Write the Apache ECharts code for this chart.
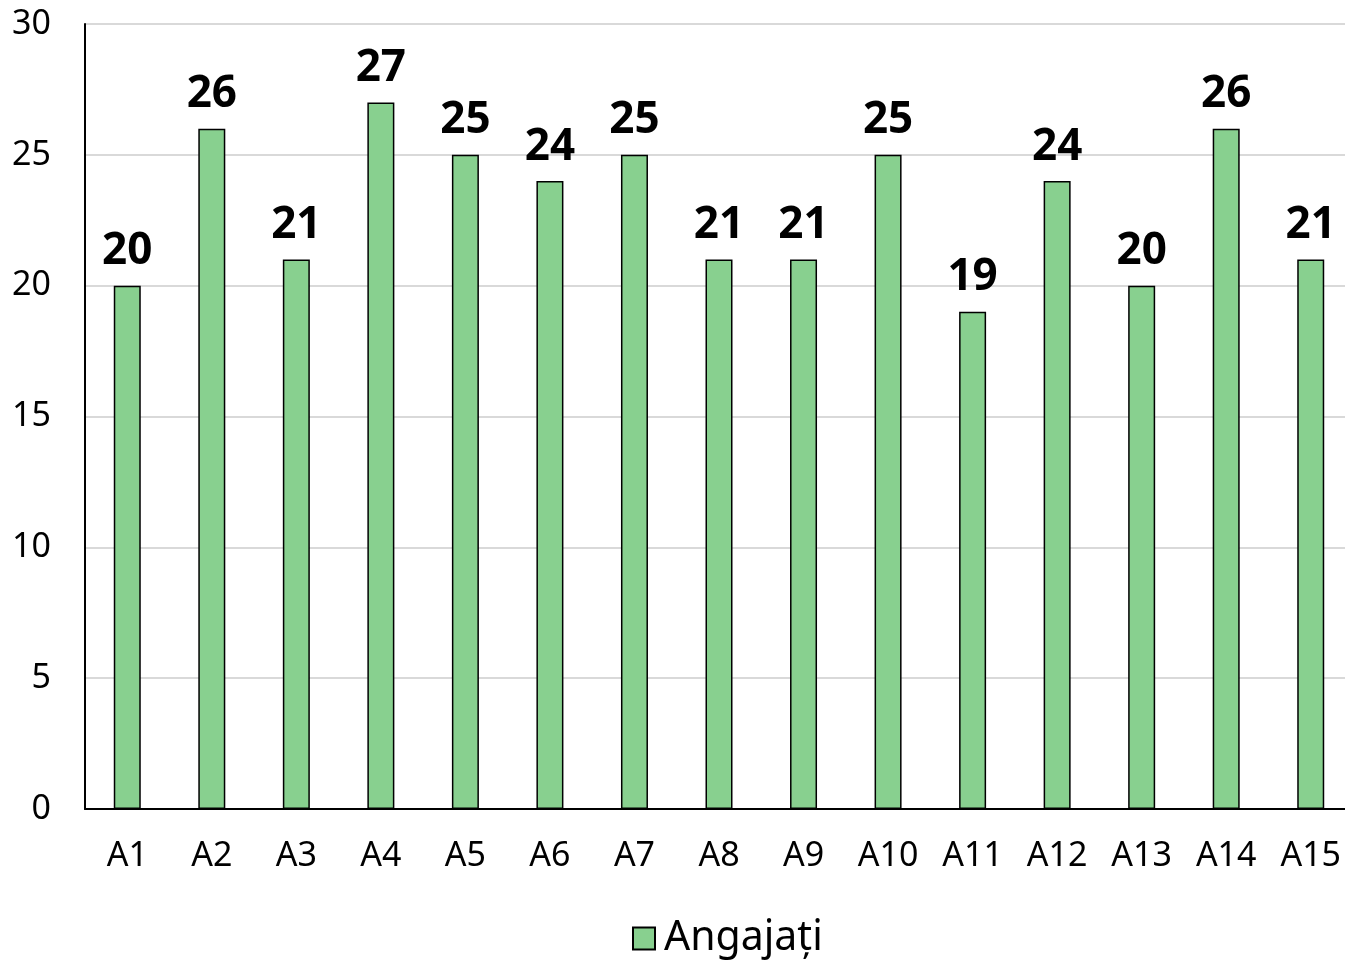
<!DOCTYPE html>
<html>
<head>
<meta charset="utf-8">
<script src="https://cdn.jsdelivr.net/npm/echarts@6/dist/echarts.min.js"></script>
<style>
  html, body { margin: 0; padding: 0; background: #fff; overflow: hidden; }
  /* a bit wider than the window: the last category runs off the right edge in the reference */
  #chart { width: 1355px; height: 961px; }
</style>
</head>
<body>
<div id="chart"></div>
<script>
// data
var categories = ['A1', 'A2', 'A3', 'A4', 'A5', 'A6', 'A7', 'A8', 'A9', 'A10', 'A11', 'A12', 'A13', 'A14', 'A15'];
var angajati = [20, 26, 21, 27, 25, 24, 25, 21, 21, 25, 19, 24, 20, 26, 21];
var seriesName = 'Angajați';

var font = '"Noto Sans", "DejaVu Sans", sans-serif';
var chart = echarts.init(document.getElementById('chart'));

var option = {
    backgroundColor: '#fff',
    animation: false,
    textStyle: { fontFamily: font },
    grid: { left: 85, top: 24, width: 1268, height: 785 },
    legend: {
        bottom: -3,
        left: 627,
        data: [seriesName],
        icon: 'rect',
        itemWidth: 22,
        itemHeight: 22,
        itemGap: 6,
        textStyle: { fontSize: 41, color: '#000', fontFamily: font, padding: [0, 0, 0, 4] }
    },
    xAxis: {
        type: 'category',
        data: categories,
        axisLine: { lineStyle: { color: '#000', width: 2 } },
        axisTick: { show: false },
        axisLabel: { fontSize: 34, color: '#000', margin: 30 }
    },
    yAxis: {
        type: 'value',
        min: 0,
        max: 30,
        interval: 5,
        axisLine: { show: true, lineStyle: { color: '#000', width: 2 } },
        axisTick: { show: false },
        splitLine: { lineStyle: { color: '#d9d9d9', width: 2 } },
        axisLabel: { fontSize: 34, color: '#000', margin: 34 }
    },
    series: [{
        name: seriesName,
        type: 'bar',
        data: angajati,
        barWidth: 27,
        itemStyle: { color: '#88d08f', borderColor: '#000', borderWidth: 1.5 },
        label: {
            show: true,
            position: 'top',
            distance: 12,
            fontSize: 44,
            fontWeight: 'bold',
            color: '#000',
            fontFamily: font
        }
    }]
};

chart.setOption(option);
</script>
</body>
</html>
